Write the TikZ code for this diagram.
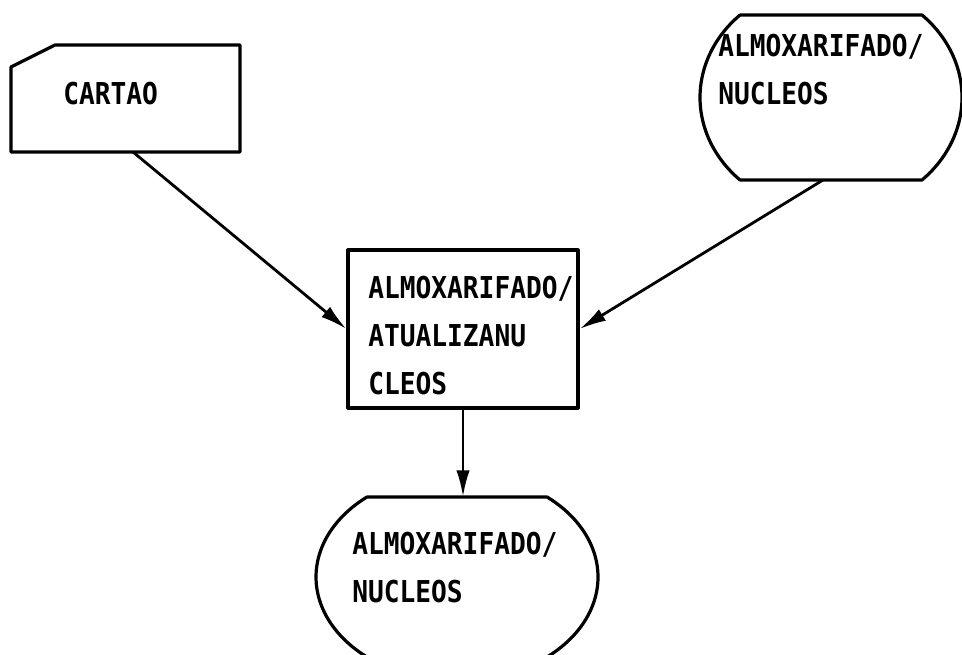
\documentclass[tikz,border=0pt]{standalone}
\usepackage{fontspec}
\newfontfamily\printerfont[FakeStretch=0.87]{DejaVu Sans Mono}
\usetikzlibrary{arrows.meta}

\tikzset{
  outline/.style={line width=2.4pt, line join=round},
  flow/.style={line width=2.1pt, -{Latex[length=20pt,width=10pt]}},
  lbl/.style={anchor=west, align=left, inner sep=0pt, font=\printerfont\bfseries\fontsize{22.6}{36}\selectfont},
}

\begin{document}
\begin{tikzpicture}[x=0.75pt,y=0.75pt,yscale=-1,xscale=1]
\useasboundingbox (0,0) rectangle (962,655);

%Shape: Card [cartao]
\draw [outline] (11,67) -- (55,45) -- (240,45) -- (240,152) -- (11,152) -- cycle ;
\coordinate (cartao) at (133,152);
\node [lbl] (cartao-txt) at (63,94) {CARTAO};

%Shape: Store [almox-in]
\draw [outline] (740,15) -- (922,15) -- plot[domain=-46:46, samples=40, smooth] ({831+131*cos(\x)},{97.5+114.7*sin(\x)}) -- (740,180) -- plot[domain=134:226, samples=40, smooth] ({831+131*cos(\x)},{97.5+114.7*sin(\x)}) -- cycle ;
\coordinate (almox-in) at (823,180);
\node [lbl] (almox-in-txt) at (718,70) {ALMOXARIFADO/\\NUCLEOS};

%Shape: Rectangle [atualiza]
\node [outline, draw, minimum width=172.5pt, minimum height=118.5pt] (atualiza) at (463,329) {};
\node [lbl] (atualiza-txt) at (368,336) {ALMOXARIFADO/\\ATUALIZANU\\CLEOS};

%Shape: Store [almox-out]
\draw [outline] (367,497) -- (547,497) -- plot[domain=-50.3:50.3, samples=40, smooth] ({457+141*cos(\x)},{577+104*sin(\x)}) -- (367,657) -- plot[domain=129.7:230.3, samples=40, smooth] ({457+141*cos(\x)},{577+104*sin(\x)}) -- cycle ;
\coordinate (almox-out) at (463,497);
\node [lbl] (almox-out-txt) at (352,568) {ALMOXARIFADO/\\NUCLEOS};

%Straight Lines
\draw [flow] (cartao) -- (atualiza.west) ;
\draw [flow] (almox-in) -- (atualiza.east) ;
\draw [flow] (atualiza.south) -- (almox-out) ;

\end{tikzpicture}
\end{document}
